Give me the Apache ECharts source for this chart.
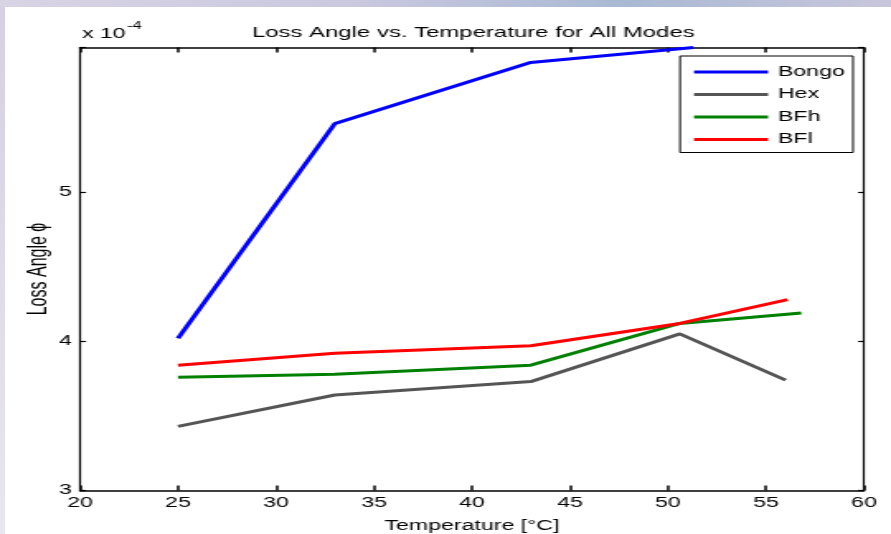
<!DOCTYPE html>
<html>
<head>
<meta charset="utf-8">
<script src="https://cdn.jsdelivr.net/npm/echarts@6/dist/echarts.min.js"></script>
<style>
  html, body { margin: 0; padding: 0; width: 891px; height: 534px; overflow: hidden; background: #fff; scrollbar-width: none; }
  ::-webkit-scrollbar { display: none; width: 0; height: 0; }
  #topband { position: absolute; left: 0; top: 0; width: 891px; height: 7px; background: linear-gradient(90deg, #d9d4e4 0%, #c9c8df 40%, #a9b9d2 70%, #c8c6dc 100%); }
  #side { position: absolute; left: 0; top: 7px; width: 5px; height: 527px; background: linear-gradient(180deg, #d6d0e2, #e8e6ee); }
  /* the source figure is a MATLAB plot stretched sideways, so draw narrow and stretch */
  #main { position: absolute; left: 0; top: 0; width: 540px; height: 534px; transform: scaleX(1.65); transform-origin: 0 0; }
</style>
</head>
<body>
<div id="topband"></div>
<div id="side"></div>
<div id="main"></div>
<script>
// temperature (°C), loss angle (x 1e-4)
var bongo = [[25, 4.02], [33, 5.46], [43, 5.87], [51.3, 5.97]];
var hex = [[25, 3.43], [33, 3.64], [43, 3.73], [50.6, 4.05], [56, 3.74]];
var bfh = [[25, 3.76], [33, 3.78], [43, 3.84], [50.6, 4.12], [56.8, 4.19]];
var bfl = [[25, 3.84], [33, 3.92], [43, 3.97], [50.6, 4.12], [56.1, 4.28]];
var seriesNames = ['Bongo', 'Hex', 'BFh', 'BFl'];
var seriesColors = ['#0000ff', '#555555', '#008000', '#ff0000'];

var S = 1.65; // horizontal stretch
var W = 540 * S; // stretched width of the chart box
var chartDom = document.getElementById('main');
var myChart = echarts.init(chartDom);
var font = 'Liberation Sans, Arial, sans-serif';

function boxAxis(extra, lw, tickLen) {
  return Object.assign({
    type: 'value',
    nameMoveOverlap: false,
    axisLine: { show: true, onZero: false, lineStyle: { color: '#000', width: lw } },
    axisTick: { show: true, inside: true, length: tickLen, lineStyle: { color: '#000', width: lw } },
    splitLine: { show: false },
    axisLabel: { show: false }
  }, extra);
}

var option = {
  animation: false,
  textStyle: { fontFamily: font },
  title: {
    text: 'Loss Angle vs. Temperature for All Modes',
    left: 465 / S,
    textAlign: 'center',
    top: 20,
    textStyle: { fontSize: 14.5, fontWeight: 'normal', color: '#000', fontFamily: font }
  },
  grid: { left: 80 / S, right: (W - 864) / S, top: 47.5, bottom: 43.5, outerBoundsMode: 'none', containLabel: false },
  legend: {
    data: seriesNames,
    orient: 'vertical',
    right: (W - 853) / S,
    top: 56,
    itemWidth: 74 / S,
    itemHeight: 3,
    itemGap: 8.5,
    padding: [9, 5, 6, 14 / S],
    borderColor: '#000',
    borderWidth: 1,
    backgroundColor: '#fff',
    icon: 'rect',
    textStyle: { fontSize: 14, color: '#000', fontFamily: font, padding: [0, 0, 0, 1] }
  },
  xAxis: [
    boxAxis({
      min: 20, max: 60, interval: 5,
      position: 'bottom',
      name: 'Temperature [°C]',
      nameLocation: 'middle',
      nameGap: 29,
      nameTextStyle: { fontSize: 14, color: '#000', fontFamily: font },
      axisLabel: { show: true, color: '#000', fontSize: 14, margin: 6, fontFamily: font }
    }, 1.5, 5),
    boxAxis({ min: 20, max: 60, interval: 5, position: 'top' }, 1.5, 5)
  ],
  yAxis: [
    boxAxis({
      min: 3, max: 5.97, interval: 1,
      position: 'left',
      name: 'Loss Angle ϕ',
      nameLocation: 'middle',
      nameGap: 17,
      nameTextStyle: { fontSize: 16, color: '#000', fontFamily: font },
      axisLabel: {
        show: true, color: '#000', fontSize: 14, margin: 5, fontFamily: font,
        formatter: function (v) { return v % 1 === 0 ? String(v) : ''; }
      }
    }, 1.2, 6 / S),
    boxAxis({ min: 3, max: 5.97, interval: 1, position: 'right' }, 1.2, 6 / S)
  ],
  graphic: [
    {
      type: 'text', left: 82 / S, top: 27,
      style: { text: 'x 10', fontSize: 14, fill: '#000', fontFamily: font }
    },
    {
      type: 'text', left: 127 / S, top: 21,
      style: { text: '-4', fontSize: 10, fill: '#000', fontFamily: font }
    }
  ],
  series: [bongo, hex, bfh, bfl].map(function (d, i) {
    return {
      name: seriesNames[i],
      type: 'line',
      data: d,
      symbol: 'none',
      clip: true,
      itemStyle: { color: seriesColors[i] },
      lineStyle: { color: seriesColors[i], width: 3 }
    };
  })
};

myChart.setOption(option);
</script>
</body>
</html>
